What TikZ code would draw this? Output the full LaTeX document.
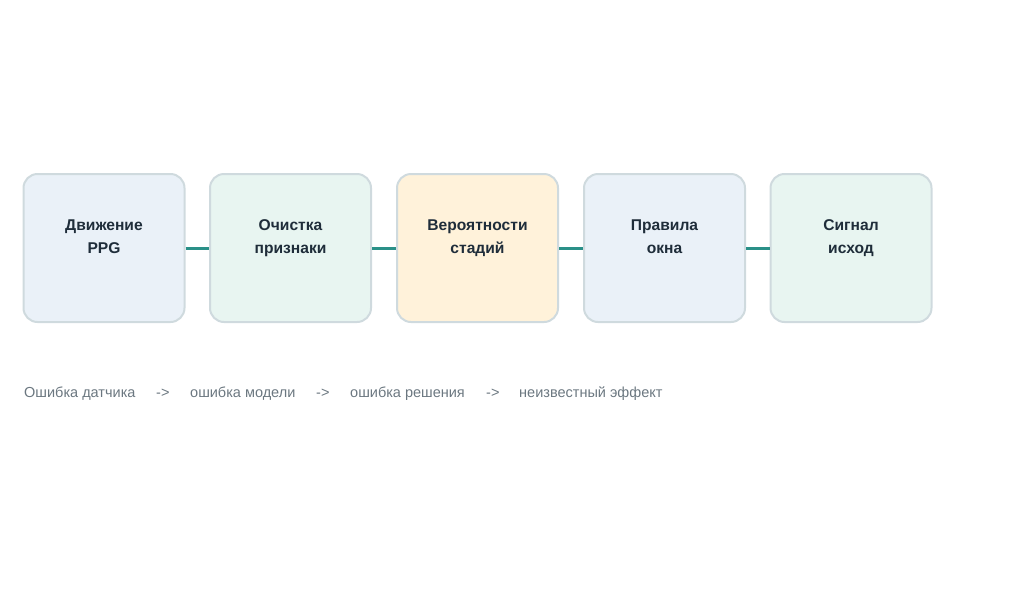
\documentclass[tikz,border=0pt]{standalone}
\usepackage{fontspec}
\setmainfont{Liberation Sans}
\definecolor{bordc}{HTML}{CFDADE}
\definecolor{fblue}{HTML}{EAF1F8}
\definecolor{fgreen}{HTML}{E8F5F1}
\definecolor{fyellow}{HTML}{FFF2DA}
\definecolor{teal}{HTML}{2A9088}
\definecolor{dtext}{HTML}{1F2D3A}
\definecolor{gtext}{HTML}{6B7780}
\begin{document}
\begin{tikzpicture}[x=1pt,y=-1pt,
  stagebox/.style={draw=bordc,line width=2pt,rounded corners=14pt,minimum width=161pt,minimum height=148pt,inner sep=0pt},
  lbl/.style={align=center,text=dtext,inner sep=0pt,font=\fontsize{15.6}{23}\selectfont\bfseries},
  conn/.style={draw=teal,line width=3pt},
  note/.style={text=gtext,font=\fontsize{14.5}{16}\selectfont,anchor=base west,inner sep=0pt}]
\useasboundingbox (0,0) rectangle (1024,614);
\node[stagebox,fill=fblue] (b1) at (104,248) {};
\node[stagebox,fill=fgreen] (b2) at (290.5,248) {};
\node[stagebox,fill=fyellow] (b3) at (477.5,248) {};
\node[stagebox,fill=fblue] (b4) at (664.5,248) {};
\node[stagebox,fill=fgreen] (b5) at (851,248) {};
\node[lbl] (t1) at (104,237) {\strut Движение\\\strut PPG};
\node[lbl] (t2) at (290.5,237) {\strut Очистка\\\strut признаки};
\node[lbl] (t3) at (477.5,237) {\strut Вероятности\\\strut стадий};
\node[lbl] (t4) at (664.5,237) {\strut Правила\\\strut окна};
\node[lbl] (t5) at (851,237) {\strut Сигнал\\\strut исход};
\draw[conn] (b1.east) -- (b2.west);
\draw[conn] (b2.east) -- (b3.west);
\draw[conn] (b3.east) -- (b4.west);
\draw[conn] (b4.east) -- (b5.west);
\node[note] (n1) at (24,397) {Ошибка датчика};
\node[note] (a1) at (156,397) {->};
\node[note] (n2) at (190,397) {ошибка модели};
\node[note] (a2) at (316,397) {->};
\node[note] (n3) at (350,397) {ошибка решения};
\node[note] (a3) at (486,397) {->};
\node[note] (n4) at (519,397) {неизвестный эффект};
\end{tikzpicture}
\end{document}
